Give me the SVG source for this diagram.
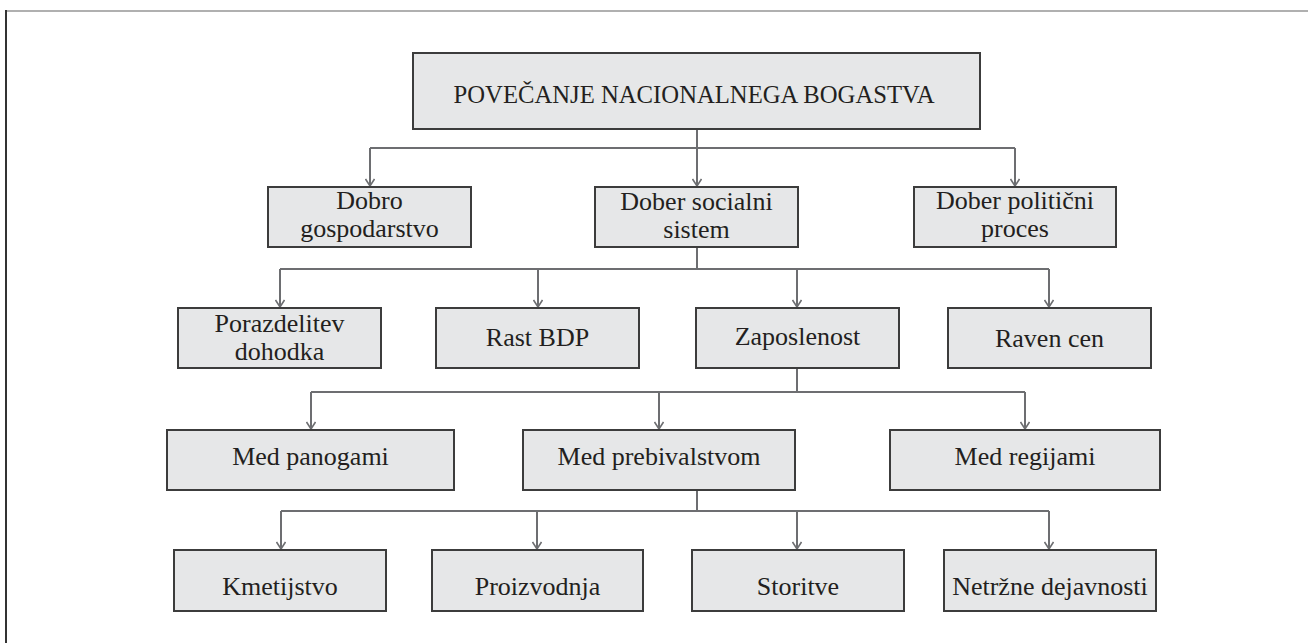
<svg xmlns="http://www.w3.org/2000/svg" width="1308" height="643" viewBox="0 0 1308 643">
<style>
.box{fill:#e6e7e8;stroke:#3c3c3c;stroke-width:2}
.t{font-family:"Liberation Serif","Times New Roman",Tinos,"DejaVu Serif",serif;font-size:26px;fill:#231f20;text-anchor:middle}
.c{fill:none;stroke:#6d6e71;stroke-width:2}
</style>
<defs>
<marker id="arr" viewBox="0 0 10 10" refX="9.5" refY="5" markerWidth="10" markerHeight="10" markerUnits="userSpaceOnUse" orient="auto">
<path d="M2.5,0.5 L9.5,5 L2.5,9.5" fill="none" stroke="#6d6e71" stroke-width="1.6"/>
</marker>
</defs>
<rect width="1308" height="643" fill="#ffffff"/>
<line x1="6" y1="11" x2="1308" y2="11" stroke="#b0b0b0" stroke-width="2"/>
<line x1="6" y1="10" x2="6" y2="643" stroke="#333333" stroke-width="2"/>

<g id="connectors">
<path class="c" d="M697,129 V148 M370,148 H1015"/>
<path class="c" d="M370,148 V186" marker-end="url(#arr)"/>
<path class="c" d="M697,148 V186" marker-end="url(#arr)"/>
<path class="c" d="M1015,148 V186" marker-end="url(#arr)"/>
<path class="c" d="M697,247 V269 M280,269 H1049"/>
<path class="c" d="M280,269 V307" marker-end="url(#arr)"/>
<path class="c" d="M538,269 V307" marker-end="url(#arr)"/>
<path class="c" d="M797,269 V307" marker-end="url(#arr)"/>
<path class="c" d="M1049,269 V307" marker-end="url(#arr)"/>
<path class="c" d="M797,368 V392 M311,392 H1025"/>
<path class="c" d="M311,392 V429" marker-end="url(#arr)"/>
<path class="c" d="M659,392 V429" marker-end="url(#arr)"/>
<path class="c" d="M1025,392 V429" marker-end="url(#arr)"/>
<path class="c" d="M697,490 V511 M281,511 H1049"/>
<path class="c" d="M281,511 V549" marker-end="url(#arr)"/>
<path class="c" d="M537,511 V549" marker-end="url(#arr)"/>
<path class="c" d="M797,511 V549" marker-end="url(#arr)"/>
<path class="c" d="M1049,511 V549" marker-end="url(#arr)"/>
</g>

<g id="n-root"><rect class="box" x="413" y="53" width="567" height="76"/><text class="t" x="694" y="103" font-size="27" textLength="481" lengthAdjust="spacingAndGlyphs">POVEČANJE NACIONALNEGA BOGASTVA</text></g>

<g id="n-gosp"><rect class="box" x="268" y="187" width="203" height="60"/><text class="t" x="369.5" y="209">Dobro</text><text class="t" x="369.5" y="237">gospodarstvo</text></g>
<g id="n-soc"><rect class="box" x="595" y="187" width="203" height="60"/><text class="t" x="696.5" y="210">Dober socialni</text><text class="t" x="696.5" y="238">sistem</text></g>
<g id="n-pol"><rect class="box" x="914" y="187" width="202" height="60"/><text class="t" x="1015" y="209">Dober politični</text><text class="t" x="1015" y="237">proces</text></g>

<g id="n-por"><rect class="box" x="178" y="308" width="203" height="60"/><text class="t" x="279.5" y="332">Porazdelitev</text><text class="t" x="279.5" y="360">dohodka</text></g>
<g id="n-bdp"><rect class="box" x="436" y="308" width="203" height="60"/><text class="t" x="537.5" y="346">Rast BDP</text></g>
<g id="n-zap"><rect class="box" x="696" y="308" width="203" height="60"/><text class="t" x="797.5" y="345">Zaposlenost</text></g>
<g id="n-rav"><rect class="box" x="948" y="308" width="203" height="60"/><text class="t" x="1049.5" y="347">Raven cen</text></g>

<g id="n-pan"><rect class="box" x="167" y="430" width="287" height="60"/><text class="t" x="310.5" y="465">Med panogami</text></g>
<g id="n-preb"><rect class="box" x="523" y="430" width="272" height="60"/><text class="t" x="659" y="465">Med prebivalstvom</text></g>
<g id="n-reg"><rect class="box" x="890" y="430" width="270" height="60"/><text class="t" x="1025" y="465">Med regijami</text></g>

<g id="n-kme"><rect class="box" x="174" y="550" width="212" height="61"/><text class="t" x="280" y="595">Kmetijstvo</text></g>
<g id="n-pro"><rect class="box" x="432" y="550" width="211" height="61"/><text class="t" x="537.5" y="595">Proizvodnja</text></g>
<g id="n-sto"><rect class="box" x="692" y="550" width="212" height="61"/><text class="t" x="798" y="595">Storitve</text></g>
<g id="n-net"><rect class="box" x="944" y="550" width="212" height="61"/><text class="t" x="1050" y="595">Netržne dejavnosti</text></g>
</svg>
